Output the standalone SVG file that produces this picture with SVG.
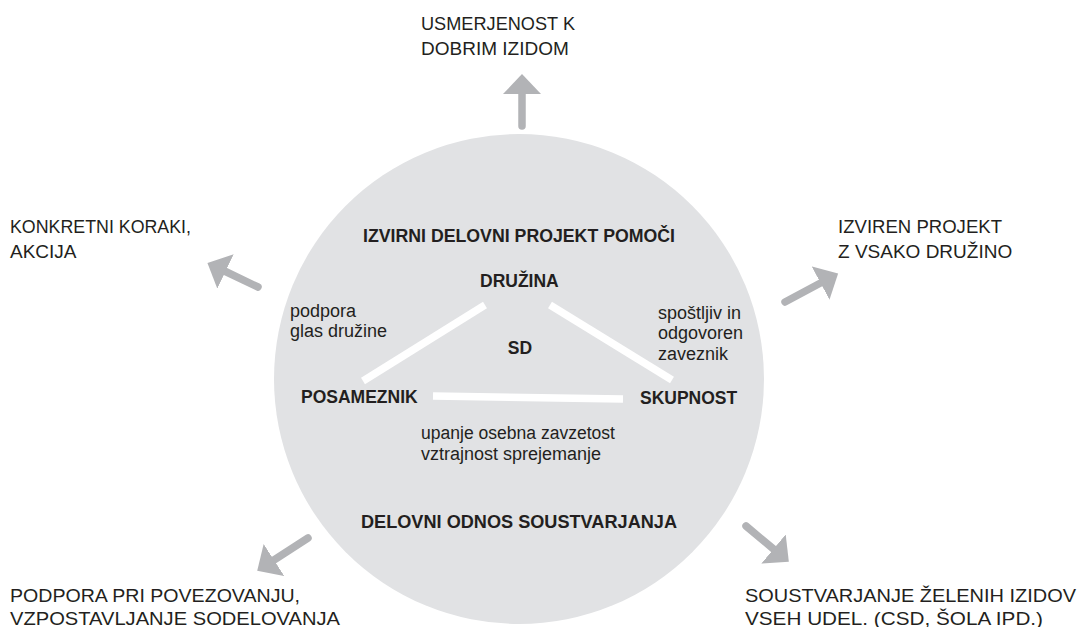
<svg xmlns="http://www.w3.org/2000/svg" width="1081" height="627" viewBox="0 0 1081 627">
<defs>
<style>
.lbl{font-family:"Liberation Sans",Arial,sans-serif;font-size:19px;fill:#231f20}
.bold{font-family:"Liberation Sans",Arial,sans-serif;font-size:17.5px;font-weight:bold;fill:#231f20}
.small{font-family:"Liberation Sans",Arial,sans-serif;font-size:18px;fill:#231f20}
.shaft{stroke:#b2b3b6;stroke-width:7.5;stroke-linecap:round;fill:none}
.tie{stroke:#ffffff;stroke-width:7.5;fill:none}
</style>
<marker id="head" markerUnits="userSpaceOnUse" markerWidth="21" markerHeight="38" refX="0" refY="19" orient="auto" viewBox="0 0 21 38">
<path d="M0,0 L20,19 L0,38 Z" fill="#b2b3b6"/>
</marker>
</defs>
<rect width="1081" height="627" fill="#ffffff"/>
<g id="circle">
<circle cx="519" cy="379" r="245" fill="#e1e2e4"/>
</g>
<g id="connectors">
<line class="shaft" x1="522" y1="126" x2="522" y2="94" marker-end="url(#head)"/>
<line class="shaft" x1="258" y1="287" x2="225.5" y2="271.5" marker-end="url(#head)"/>
<line class="shaft" x1="785" y1="302" x2="820.5" y2="283" marker-end="url(#head)"/>
<line class="shaft" x1="308" y1="538" x2="274" y2="560" marker-end="url(#head)"/>
<line class="shaft" x1="746" y1="526" x2="773.5" y2="549" marker-end="url(#head)"/>
<line class="tie" x1="363" y1="381" x2="485" y2="305"/>
<line class="tie" x1="550" y1="305" x2="672" y2="380"/>
<line class="tie" x1="433" y1="396" x2="623" y2="399"/>
</g>
<g id="top-label">
<text class="lbl" x="421" y="30" textLength="154" lengthAdjust="spacingAndGlyphs">USMERJENOST K</text>
<text class="lbl" x="421" y="55">DOBRIM IZIDOM</text>
</g>
<g id="left-label">
<text class="lbl" x="10" y="233" textLength="181" lengthAdjust="spacingAndGlyphs">KONKRETNI KORAKI,</text>
<text class="lbl" x="10" y="258">AKCIJA</text>
</g>
<g id="right-label">
<text class="lbl" x="838" y="233" textLength="164" lengthAdjust="spacingAndGlyphs">IZVIREN PROJEKT</text>
<text class="lbl" x="838" y="258">Z VSAKO DRUŽINO</text>
</g>
<g id="bottom-left-label">
<text class="lbl" x="10" y="602" textLength="290" lengthAdjust="spacingAndGlyphs">PODPORA PRI POVEZOVANJU,</text>
<text class="lbl" x="10" y="625" textLength="330" lengthAdjust="spacingAndGlyphs">VZPOSTAVLJANJE SODELOVANJA</text>
</g>
<g id="bottom-right-label">
<text class="lbl" x="745" y="602" textLength="331" lengthAdjust="spacingAndGlyphs">SOUSTVARJANJE ŽELENIH IZIDOV</text>
<text class="lbl" x="745" y="625" textLength="298" lengthAdjust="spacingAndGlyphs">VSEH UDEL. (CSD, ŠOLA IPD.)</text>
</g>
<g id="project">
<text class="bold" x="363" y="242" textLength="312" lengthAdjust="spacingAndGlyphs">IZVIRNI DELOVNI PROJEKT POMOČI</text>
</g>
<g id="druzina">
<text class="bold" x="480" y="287">DRUŽINA</text>
</g>
<g id="sd">
<text class="bold" x="520" y="354" text-anchor="middle">SD</text>
</g>
<g id="posameznik">
<text class="bold" x="301" y="403">POSAMEZNIK</text>
</g>
<g id="skupnost">
<text class="bold" x="640" y="404">SKUPNOST</text>
</g>
<g id="podpora">
<text class="small" x="290" y="317">podpora</text>
<text class="small" x="290" y="337">glas družine</text>
</g>
<g id="zaveznik">
<text class="small" x="658" y="319">spoštljiv in</text>
<text class="small" x="658" y="339">odgovoren</text>
<text class="small" x="658" y="360">zaveznik</text>
</g>
<g id="upanje">
<text class="small" x="421" y="439" textLength="194" lengthAdjust="spacingAndGlyphs">upanje osebna zavzetost</text>
<text class="small" x="421" y="460">vztrajnost sprejemanje</text>
</g>
<g id="odnos">
<text class="bold" x="361" y="528" textLength="316" lengthAdjust="spacingAndGlyphs">DELOVNI ODNOS SOUSTVARJANJA</text>
</g>
</svg>
